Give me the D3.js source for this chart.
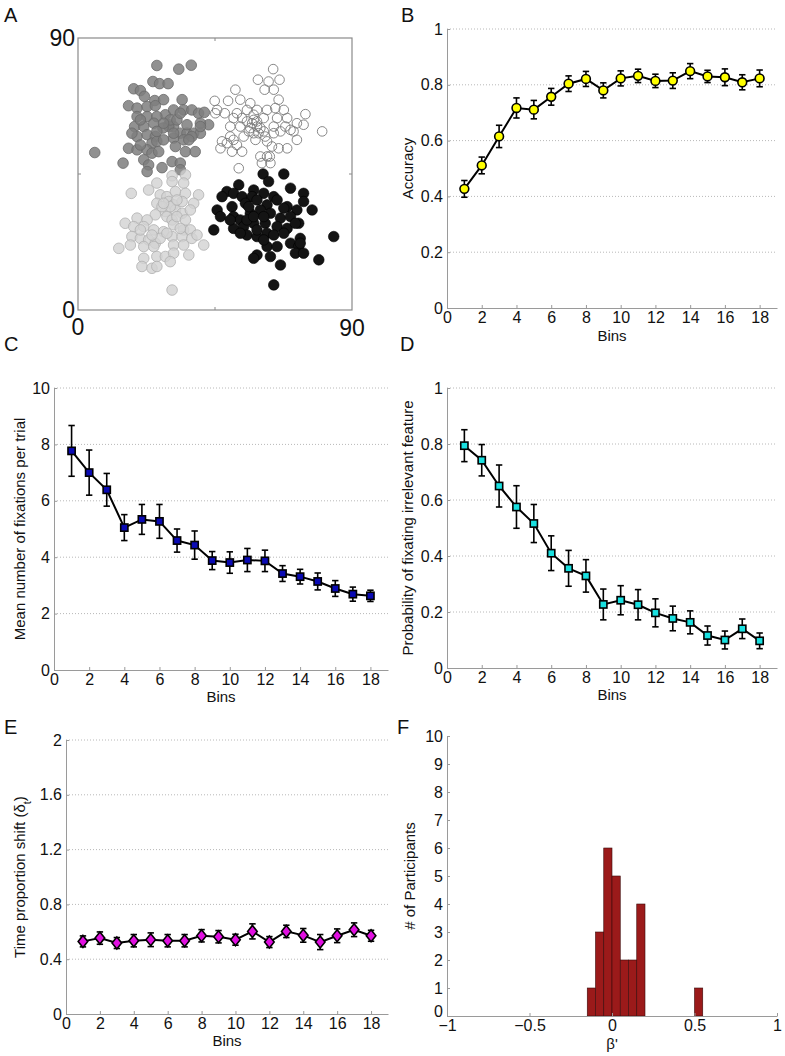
<!DOCTYPE html>
<html><head><meta charset="utf-8">
<script src="https://cdn.jsdelivr.net/npm/d3@7"></script>
<style>
body{margin:0;background:#fff;}
svg text{font-family:"Liberation Sans",Arial,Helvetica,sans-serif;}
</style></head>
<body><svg id="fig" width="785" height="1056"></svg>
<script>
// ---------- DATA ----------
const bins = [1,2,3,4,5,6,7,8,9,10,11,12,13,14,15,16,17,18];
const binTicks = [0,2,4,6,8,10,12,14,16,18];

const accuracy = [0.427,0.511,0.615,0.717,0.711,0.757,0.804,0.821,0.780,0.823,0.832,0.814,0.815,0.849,0.830,0.827,0.809,0.823];
const accuracyErr = [0.030,0.030,0.040,0.036,0.033,0.030,0.028,0.027,0.027,0.027,0.024,0.024,0.028,0.027,0.022,0.030,0.027,0.030];
const accuracyTicks = [0,0.2,0.4,0.6,0.8,1];

const fixations = [7.77,7.00,6.39,5.05,5.34,5.27,4.59,4.43,3.88,3.81,3.90,3.87,3.42,3.31,3.14,2.89,2.69,2.63];
const fixationsErr = [0.90,0.80,0.58,0.46,0.53,0.60,0.41,0.50,0.32,0.38,0.41,0.38,0.28,0.26,0.30,0.28,0.25,0.20];
const fixationTicks = [0,2,4,6,8,10];

const irrelevant = [0.794,0.742,0.650,0.575,0.516,0.410,0.356,0.329,0.227,0.242,0.226,0.197,0.177,0.163,0.116,0.100,0.140,0.097];
const irrelevantErr = [0.057,0.056,0.075,0.076,0.068,0.062,0.064,0.058,0.055,0.052,0.054,0.050,0.044,0.041,0.034,0.032,0.035,0.028];
const probTicks = [0,0.2,0.4,0.6,0.8,1];

const timeShift = [0.530,0.554,0.518,0.535,0.542,0.535,0.535,0.571,0.564,0.542,0.603,0.525,0.603,0.574,0.525,0.571,0.615,0.571];
const timeShiftErr = [0.040,0.045,0.040,0.045,0.050,0.045,0.045,0.045,0.045,0.040,0.055,0.040,0.045,0.050,0.055,0.050,0.050,0.040];
const timeTicks = [0,0.4,0.8,1.2,1.6,2];

const histBinStart = [-0.15,-0.10,-0.05,0.00,0.05,0.10,0.15,0.50];
const histBinEnd   = [-0.10,-0.05,0.00,0.05,0.10,0.15,0.20,0.55];
const histCounts   = [1,3,6,5,2,2,4,1];
const countTicks = [0,1,2,3,4,5,6,7,8,9,10];
const betaTicks = [-1,-0.5,0,0.5,1];

const scatterTicks = [0,90];
const clusterDarkGray = [[25.9,80.9],[33.1,79.7],[37.2,81.0],[24.6,75.6],[26.8,74.9],[29.6,74.9],[18.3,73.2],[20.5,72.6],[21.8,70.7],[25.2,69.3],[28.1,69.6],[16.6,67.6],[19.4,66.8],[22.7,67.3],[25.4,67.6],[28.7,64.6],[31.4,66.2],[34.2,69.6],[34.7,66.2],[37.4,66.2],[39.6,65.1],[41.5,65.4],[42.9,61.3],[40.2,61.8],[19.4,64.0],[22.7,64.0],[25.9,64.0],[29.8,61.3],[31.4,60.7],[33.6,58.5],[35.8,58.5],[38.0,58.5],[40.2,58.5],[18.6,60.7],[21.6,60.7],[19.4,57.4],[22.7,58.0],[25.4,57.4],[24.3,55.2],[25.9,55.8],[28.1,56.3],[31.4,56.9],[34.7,56.3],[37.4,57.4],[32.0,54.1],[16.6,53.5],[19.4,53.0],[22.7,53.0],[24.3,51.9],[26.5,52.4],[35.3,52.4],[38.5,52.4],[5.5,52.1],[14.8,48.6],[21.6,49.7],[23.2,48.0],[27.6,47.1],[30.9,49.1],[33.6,48.6],[22.7,45.8],[33.6,46.4],[29.8,60.7],[30.3,62.9],[32.5,62.9],[20.5,62.9],[17.7,58.5],[20.5,54.6],[27.9,60.2],[36.4,56.3],[40.2,60.7],[24.9,61.8],[33.6,65.1],[35.8,61.3],[31.4,58.5],[28.1,61.8],[25.9,59.1]];
const clusterOpen = [[64.1,79.7],[59.1,76.2],[62.6,75.6],[66.2,76.2],[61.3,72.9],[64.3,72.9],[51.7,72.9],[44.9,69.2],[49.3,69.2],[53.3,69.6],[56.6,68.4],[65.9,69.6],[45.1,65.1],[48.2,65.1],[52.2,65.1],[55.5,66.2],[58.8,66.2],[62.1,66.2],[64.8,66.8],[67.6,66.2],[68.7,63.5],[71.9,61.8],[74.7,64.8],[80.2,59.1],[74.1,61.3],[51.1,63.5],[53.9,63.5],[57.7,62.9],[61.0,63.5],[65.4,63.5],[68.1,60.7],[70.8,59.1],[53.3,60.7],[56.6,60.2],[58.8,60.7],[56.1,59.1],[57.7,58.5],[61.0,59.1],[64.3,58.5],[66.5,59.1],[58.3,56.3],[61.5,57.4],[50.0,57.4],[48.9,55.2],[47.3,55.8],[46.8,53.5],[51.1,56.3],[52.2,54.6],[50.6,52.4],[53.9,52.4],[63.7,54.1],[65.9,53.5],[68.7,53.5],[71.9,56.3],[59.9,50.8],[62.1,50.8],[60.4,48.6],[63.2,48.6],[63.0,50.8],[52.8,46.9],[45.7,66.2],[50.0,60.7],[55.5,62.4],[59.9,60.2],[62.1,55.8],[57.7,64.6],[69.8,59.6],[64.3,60.7],[59.3,58.5],[54.4,57.4],[57.2,61.8],[58.8,62.4]];
const clusterLightGray = [[30.9,44.4],[35.3,44.7],[25.9,42.0],[30.9,42.5],[34.7,42.0],[23.2,39.7],[27.0,38.1],[29.2,37.5],[32.0,39.2],[35.3,38.6],[17.5,38.6],[39.6,38.1],[25.9,35.3],[29.8,35.9],[31.4,34.8],[34.2,35.9],[38.0,35.3],[28.7,32.6],[32.0,33.1],[34.2,32.0],[36.9,33.1],[25.4,31.5],[29.2,30.9],[30.9,29.8],[19.4,30.4],[22.7,29.8],[15.5,28.7],[18.3,27.6],[21.6,27.6],[31.4,28.2],[34.7,26.5],[36.9,26.5],[24.9,26.5],[28.1,25.9],[17.7,24.3],[20.5,23.7],[23.2,23.2],[25.4,22.1],[30.9,24.3],[34.2,24.3],[37.4,23.7],[39.1,24.8],[13.4,20.4],[17.2,21.5],[21.6,21.0],[24.9,21.0],[31.4,21.5],[34.7,21.5],[41.3,21.5],[25.9,17.7],[28.7,17.7],[31.4,18.8],[21.6,17.1],[36.4,18.2],[21.0,14.4],[24.3,13.8],[25.9,14.4],[30.3,16.0],[30.9,6.6],[32.5,30.9],[30.3,34.2],[27.6,34.2],[35.3,29.8],[33.6,27.0],[20.5,26.5],[27.0,23.7],[24.3,24.8],[29.2,25.4],[32.5,36.4],[28.1,35.3]];
const clusterBlack = [[60.8,45.0],[67.6,45.0],[62.6,42.5],[52.8,41.4],[57.7,39.7],[48.9,39.2],[51.1,38.6],[53.9,37.5],[57.2,37.5],[61.0,38.6],[64.3,37.5],[69.8,40.3],[74.1,38.6],[47.3,37.5],[74.1,35.9],[45.7,33.1],[50.6,34.2],[55.0,35.3],[58.8,36.4],[62.1,34.8],[65.4,36.4],[68.7,34.2],[71.9,33.1],[76.9,33.1],[46.8,30.9],[51.1,30.9],[53.3,29.8],[56.6,32.0],[59.9,33.1],[63.2,32.0],[66.5,30.4],[69.8,30.9],[72.5,28.7],[44.6,26.5],[51.1,27.0],[54.4,27.6],[57.7,28.7],[61.5,28.7],[65.4,27.6],[68.7,27.0],[71.4,28.7],[55.5,24.8],[58.8,24.3],[62.1,25.4],[64.3,24.8],[73.0,23.7],[84.0,24.3],[62.1,21.0],[65.4,21.0],[69.8,22.1],[72.5,21.0],[58.8,18.2],[63.2,17.7],[71.4,18.8],[74.1,18.8],[79.1,16.6],[57.7,17.1],[66.5,14.9],[64.3,8.3],[73.0,22.1],[55.5,29.8],[58.8,26.5],[67.6,25.4],[53.3,25.4],[61.0,23.2],[57.7,30.9],[50.0,29.8],[67.6,33.7],[56.1,34.2],[61.0,30.9]];

// ---------- DRAWING ----------
const svg = d3.select("#fig");
svg.append("rect").attr("width",785).attr("height",1056).attr("fill","#fff");

const AXIS_GRAY = "#9a9a9a";
const FS = 15;     // axis title size
const TFS = 16;    // tick label size

function panelLabel(t, x, y){
  svg.append("text").attr("x",x).attr("y",y).attr("font-size",20).attr("fill","#111").text(t);
}
panelLabel("A",4,22); panelLabel("B",401,22);
panelLabel("C",4,351); panelLabel("D",400,351);
panelLabel("E",4,734); panelLabel("F",397,734);

function styleAxis(g){
  g.select(".domain").attr("stroke",AXIS_GRAY).attr("stroke-width",1);
  g.selectAll(".tick line").attr("stroke",AXIS_GRAY);
  g.selectAll(".tick text").attr("font-size",TFS).attr("fill","#111")
   .attr("font-family","'Liberation Sans',Arial,sans-serif");
}

function fmt(v){ return (v<0?"\u2212":"") + String(Math.abs(v)); }

function axesFrame(x, y, xTicks, yTicks, opts){
  const [xa,xb] = x.range(), [ya,yb] = y.range();
  if(opts.grid){
    svg.append("g").selectAll("line").data(yTicks.filter(v=>v!==y.domain()[0])).join("line")
      .attr("x1",xa).attr("x2",xb).attr("y1",d=>y(d)).attr("y2",d=>y(d))
      .attr("stroke","#b8b8b8").attr("stroke-width",1).attr("stroke-dasharray","1,2");
  }
  const gx = svg.append("g").attr("transform",`translate(0,${ya})`)
    .call(d3.axisBottom(x).tickValues(xTicks).tickFormat(fmt).tickSizeInner(-3).tickSizeOuter(0).tickPadding(4));
  styleAxis(gx);
  const gy = svg.append("g").attr("transform",`translate(${xa},0)`)
    .call(d3.axisLeft(y).tickValues(yTicks).tickFormat(fmt).tickSizeInner(-3).tickSizeOuter(0).tickPadding(4));
  styleAxis(gy);
  if(opts.zeroLift){
    gy.selectAll(".tick").filter(d=>d===y.domain()[0]).select("text").attr("dy","0.05em");
  }
  // x label
  svg.append("text").attr("x",(xa+xb)/2).attr("y",ya+opts.xlabDy).attr("text-anchor","middle")
    .attr("font-size",FS).attr("fill","#111").text(opts.xlabel);
  // y label
  const yl = svg.append("text").attr("transform",`translate(${opts.ylabX},${(ya+yb)/2}) rotate(-90)`)
    .attr("text-anchor","middle").attr("font-size",FS).attr("fill","#111");
  if(typeof opts.ylabel === "string") yl.text(opts.ylabel);
  else opts.ylabel(yl);
}

function errorSeries(x, y, vals, errs, marker, fill){
  const g = svg.append("g");
  const eb = g.selectAll("g.eb").data(bins).join("g");
  eb.append("line").attr("x1",(d)=>x(d)).attr("x2",(d)=>x(d))
    .attr("y1",(d,i)=>y(vals[i]-errs[i])).attr("y2",(d,i)=>y(vals[i]+errs[i]))
    .attr("stroke","#000").attr("stroke-width",1.6);
  [-1,1].forEach(s=>{
    eb.append("line").attr("x1",d=>x(d)-3.2).attr("x2",d=>x(d)+3.2)
      .attr("y1",(d,i)=>y(vals[i]+s*errs[i])).attr("y2",(d,i)=>y(vals[i]+s*errs[i]))
      .attr("stroke","#000").attr("stroke-width",1.6);
  });
  g.append("path").datum(bins)
    .attr("d",d3.line().x(d=>x(d)).y((d,i)=>y(vals[i])))
    .attr("fill","none").attr("stroke","#000").attr("stroke-width",2);
  const m = g.selectAll("g.m").data(bins).join("g")
    .attr("transform",(d,i)=>`translate(${x(d)},${y(vals[i])})`);
  if(marker==="circle"){
    m.append("circle").attr("r",4.4).attr("fill",fill).attr("stroke","#000").attr("stroke-width",1.6);
  } else if(marker==="square"){
    m.append("rect").attr("x",-3.6).attr("y",-3.6).attr("width",7.2).attr("height",7.2)
      .attr("fill",fill).attr("stroke","#000").attr("stroke-width",1.6);
  } else {
    m.append("path").attr("d","M0,-6L4.8,0L0,6L-4.8,0Z")
      .attr("fill",fill).attr("stroke","#000").attr("stroke-width",1.6);
  }
}

// ---- Panel A ----
{
  const x = d3.scaleLinear().domain([0,90]).range([78,352]);
  const y = d3.scaleLinear().domain([0,90]).range([310,38]);
  const g = svg.append("g");
  g.append("rect").attr("x",x(0)).attr("y",y(90)).attr("width",x(90)-x(0)).attr("height",y(0)-y(90))
    .attr("fill","none").attr("stroke","#8a8a8a").attr("stroke-width",1.2);
  const mid = 45;
  g.append("line").attr("x1",x(mid)).attr("x2",x(mid)).attr("y1",y(0)).attr("y2",y(0)-3).attr("stroke","#8a8a8a");
  g.append("line").attr("x1",x(mid)).attr("x2",x(mid)).attr("y1",y(90)).attr("y2",y(90)+3).attr("stroke","#8a8a8a");
  g.append("line").attr("x1",x(0)).attr("x2",x(0)+3).attr("y1",y(mid)).attr("y2",y(mid)).attr("stroke","#8a8a8a");
  g.append("line").attr("x1",x(90)).attr("x2",x(90)-3).attr("y1",y(mid)).attr("y2",y(mid)).attr("stroke","#8a8a8a");
  const R = 5.3;
  g.append("g").selectAll("circle").data(clusterDarkGray).join("circle")
    .attr("cx",d=>x(d[0])).attr("cy",d=>y(d[1])).attr("r",R)
    .attr("fill","#7e7e7e").attr("fill-opacity",0.85).attr("stroke","#6a6a6a").attr("stroke-width",0.8);
  g.append("g").selectAll("circle").data(clusterLightGray).join("circle")
    .attr("cx",d=>x(d[0])).attr("cy",d=>y(d[1])).attr("r",R)
    .attr("fill","#d2d2d2").attr("fill-opacity",0.8).attr("stroke","#b0b0b0").attr("stroke-width",0.8);
  g.append("g").selectAll("circle").data(clusterOpen).join("circle")
    .attr("cx",d=>x(d[0])).attr("cy",d=>y(d[1])).attr("r",R-0.5)
    .attr("fill","none").attr("stroke","#7a7a7a").attr("stroke-width",0.9);
  g.append("g").selectAll("circle").data(clusterBlack).join("circle")
    .attr("cx",d=>x(d[0])).attr("cy",d=>y(d[1])).attr("r",R)
    .attr("fill","#141414").attr("stroke","#000").attr("stroke-width",0.6);
  // tick labels
  const AFS = 23;
  g.append("text").attr("x",x(0)-3).attr("y",y(scatterTicks[1])+8).attr("text-anchor","end")
    .attr("font-size",AFS).attr("fill","#111").text(scatterTicks[1]);
  g.append("text").attr("x",x(0)-3).attr("y",y(scatterTicks[0])+8).attr("text-anchor","end")
    .attr("font-size",AFS).attr("fill","#111").text(scatterTicks[0]);
  g.append("text").attr("x",x(scatterTicks[0])).attr("y",y(0)+25).attr("text-anchor","middle")
    .attr("font-size",AFS).attr("fill","#111").text(scatterTicks[0]);
  g.append("text").attr("x",x(scatterTicks[1])).attr("y",y(0)+26).attr("text-anchor","middle")
    .attr("font-size",AFS).attr("fill","#111").text(scatterTicks[1]);
}

// ---- Panel B ----
{
  const x = d3.scaleLinear().domain([0,19]).range([447,777]);
  const y = d3.scaleLinear().domain([0,1]).range([308,29]);
  axesFrame(x,y,binTicks,accuracyTicks,{grid:true,xlabel:"Bins",xlabDy:33,ylabel:"Accuracy",ylabX:413});
  errorSeries(x,y,accuracy,accuracyErr,"circle","#ffff00");
}
// ---- Panel C ----
{
  const x = d3.scaleLinear().domain([0,19]).range([54,388]);
  const y = d3.scaleLinear().domain([0,10]).range([670,388]);
  axesFrame(x,y,binTicks,fixationTicks,{grid:true,xlabel:"Bins",xlabDy:32,ylabel:"Mean number of fixations per trial",ylabX:25});
  errorSeries(x,y,fixations,fixationsErr,"square","#0a0ab4");
}
// ---- Panel D ----
{
  const x = d3.scaleLinear().domain([0,19]).range([447,777]);
  const y = d3.scaleLinear().domain([0,1]).range([668,388]);
  axesFrame(x,y,binTicks,probTicks,{grid:true,xlabel:"Bins",xlabDy:32,ylabel:"Probability of fixating irrelevant feature",ylabX:413});
  errorSeries(x,y,irrelevant,irrelevantErr,"square","#19e0e0");
}
// ---- Panel E ----
{
  const x = d3.scaleLinear().domain([0,19]).range([66,388]);
  const y = d3.scaleLinear().domain([0,2]).range([1014,740]);
  axesFrame(x,y,binTicks,timeTicks,{grid:true,xlabel:"Bins",xlabDy:32,ylabX:25,
    ylabel:(t)=>{ t.append("tspan").text("Time proportion shift (\u03b4");
                  t.append("tspan").attr("baseline-shift","sub").attr("font-size",11).text("t");
                  t.append("tspan").text(")"); }});
  errorSeries(x,y,timeShift,timeShiftErr,"diamond","#e010e0");
}
// ---- Panel F ----
{
  const x = d3.scaleLinear().domain([-1,1]).range([447,777]);
  const y = d3.scaleLinear().domain([0,10]).range([1016,736]);
  svg.append("g").selectAll("rect").data(histCounts).join("rect")
    .attr("x",(d,i)=>x(histBinStart[i])).attr("width",(d,i)=>x(histBinEnd[i])-x(histBinStart[i]))
    .attr("y",d=>y(d)).attr("height",d=>y(0)-y(d))
    .attr("fill","#9b1a1a").attr("stroke","#3a0a0a").attr("stroke-width",0.6);
  axesFrame(x,y,betaTicks,countTicks,{grid:false,zeroLift:true,xlabel:"\u03b2'",xlabDy:33,ylabel:"# of Participants",ylabX:415});
}
</script></body></html>
